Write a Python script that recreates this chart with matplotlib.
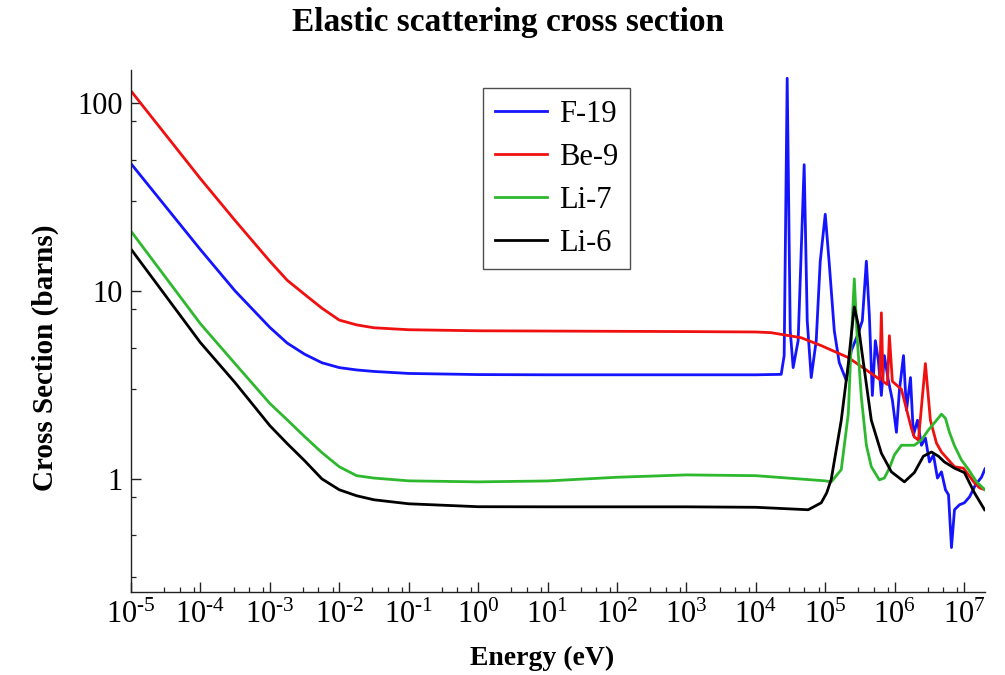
import math
import matplotlib
matplotlib.use("Agg")
import matplotlib.pyplot as plt
from matplotlib.ticker import FixedLocator, LogLocator, NullFormatter, FuncFormatter

plt.rcParams['font.family'] = ['Liberation Serif', 'DejaVu Serif']
plt.rcParams['mathtext.fontset'] = 'custom'
plt.rcParams['mathtext.rm'] = 'Liberation Serif'
plt.rcParams['mathtext.it'] = 'Liberation Serif:italic'
plt.rcParams['mathtext.bf'] = 'Liberation Serif:bold'

# ---- elastic cross sections (energy in eV, cross section in barns) ----
low_energy = [1e-5, 1e-4, 3.16e-4, 1e-3, 1.78e-3, 3.16e-3, 5.62e-3, 1e-2,
              1.78e-2, 3.16e-2, 1e-1, 1, 10, 100, 1e3, 1e4]

f19_low = [47.6, 16.6, 10.0, 6.4, 5.28, 4.61, 4.15, 3.91,
           3.80, 3.73, 3.64, 3.59, 3.58, 3.58, 3.58, 3.58]
be9_low = [116, 39.6, 23.7, 14.4, 11.4, 9.6, 8.1, 7.0,
           6.6, 6.37, 6.22, 6.14, 6.12, 6.10, 6.08, 6.05]
li7_low = [20.8, 6.69, 4.1, 2.52, 2.06, 1.68, 1.38, 1.16,
           1.04, 1.01, 0.976, 0.964, 0.975, 1.02, 1.05, 1.04]
li6_low = [16.7, 5.31, 3.25, 1.92, 1.54, 1.25, 1.0, 0.875,
           0.813, 0.774, 0.737, 0.711, 0.710, 0.710, 0.710, 0.706]

f19_high_e = [2.32e4, 2.56e4, 2.83e4, 3.13e4, 3.45e4, 4.07e4, 4.97e4, 5.5e4,
              6.28e4, 7.41e4, 8.47e4, 1.0e5, 1.14e5, 1.35e5, 1.59e5, 2.01e5,
              2.37e5, 2.9e5, 3.42e5, 3.91e5, 4.32e5, 4.77e5, 5.27e5, 5.82e5,
              6.43e5, 7.1e5, 8.11e5, 9.27e5, 1.06e6, 1.17e6, 1.34e6, 1.48e6,
              1.69e6, 1.86e6, 2.13e6, 2.43e6, 2.77e6, 3.17e6, 3.62e6, 4.13e6,
              4.72e6, 5.39e6, 5.96e6, 6.58e6, 7.27e6, 8.58e6, 1.01e7, 1.2e7,
              1.46e7, 1.78e7, 2.0e7]
f19_high = [3.6, 4.53, 135.6, 6.14, 3.91, 5.44, 47.0, 6.94,
            3.46, 5.44, 14.4, 25.6, 14.1, 6.14, 4.16, 3.34,
            4.81, 5.78, 6.94, 14.4, 7.37, 2.78, 5.44, 4.26,
            2.78, 4.53, 3.34, 2.62, 1.77, 2.96, 4.53, 2.32,
            3.46, 1.71, 2.05, 1.51, 1.65, 1.23, 1.34, 1.01,
            1.09, 0.875, 0.823, 0.431, 0.685, 0.728, 0.746, 0.803,
            0.93, 1.02, 1.13]

be9_high_e = [1.66e4, 4.5e4, 8.75e4, 2.15e5, 4.61e5, 5.82e5, 6.1e5, 6.43e5,
              6.8e5, 7.85e5, 8.39e5, 9.27e5, 1.25e6, 1.74e6, 1.92e6, 2.2e6,
              2.77e6, 3.27e6, 4.0e6, 4.72e6, 7.27e6, 9.8e6, 1.41e7, 1.67e7,
              2.0e7]
be9_high = [6.0, 5.64, 5.12, 4.42, 3.64, 3.42, 3.38, 7.65,
            3.3, 3.18, 5.78, 3.3, 3.0, 1.86, 1.67, 1.61,
            4.11, 2.05, 1.55, 1.39, 1.16, 1.14, 0.953, 0.896,
            0.875]

li7_high_e = [1e5, 1.22e5, 1.7e5, 2.15e5, 2.37e5, 2.62e5, 2.9e5, 3.31e5,
              3.91e5, 4.61e5, 6.01e5, 7.1e5, 8.39e5, 9.9e5, 1.25e6, 1.92e6,
              2.43e6, 3.06e6, 4.0e6, 4.72e6, 5.39e6, 6.15e6, 7.27e6, 9.17e6,
              1.16e7, 1.51e7, 2.0e7]
li7_high = [0.976, 0.964, 1.12, 2.23, 5.44, 11.6, 5.44, 2.72,
            1.51, 1.16, 0.988, 1.01, 1.14, 1.34, 1.51, 1.51,
            1.61, 1.82, 2.05, 2.21, 2.1, 1.77, 1.5, 1.26,
            1.12, 0.964, 0.875]

li6_high_e = [5.69e4, 8.75e4, 1.05e5, 1.22e5, 1.7e5, 2.15e5, 2.4e5, 2.62e5,
              2.99e5, 3.31e5, 4.61e5, 6.43e5, 8.96e5, 1.38e6, 1.92e6, 2.59e6,
              3.39e6, 4.27e6, 5.21e6, 7.27e6, 1.01e7, 1.41e7, 1.97e7]
li6_high = [0.685, 0.746, 0.843, 0.995, 2.05, 4.11, 6.1, 8.23,
            6.6, 4.99, 2.05, 1.37, 1.09, 0.964, 1.08, 1.32,
            1.39, 1.32, 1.23, 1.14, 1.08, 0.843, 0.685]

series = [
    ("F-19", low_energy + f19_high_e, f19_low + f19_high, "#1414ff"),
    ("Be-9", low_energy + be9_high_e, be9_low + be9_high, "#f01010"),
    ("Li-7", low_energy + li7_high_e, li7_low + li7_high, "#2eb82e"),
    ("Li-6", low_energy + li6_high_e, li6_low + li6_high, "#000000"),
]

x_major = [10.0 ** k for k in range(-5, 8)]
y_major = [1, 10, 100]
y_labels = ["1", "10", "100"]

fig = plt.figure(figsize=(10.05, 6.75), dpi=100)
ax = fig.add_axes([131 / 1005, 83 / 675, 854 / 1005, 522 / 675])

for name, e, xs, col in series:
    ax.plot(e, xs, color=col, lw=2.0, label=name, solid_joinstyle='round')

ax.set_xscale('log')
ax.set_yscale('log')
ax.set_xlim(1e-5, 2e7)
ax.set_ylim(0.25, 150)

for side in ('top', 'right'):
    ax.spines[side].set_visible(False)
for side in ('left', 'bottom'):
    ax.spines[side].set_linewidth(1.0)
    ax.spines[side].set_color('#222222')


def decade_label(v, pos):
    k = int(round(math.log10(v)))
    sign = '\u2010' if k < 0 else ''
    return r'$\mathregular{10^{%s%d}}$' % (sign, abs(k))


def y_label(v, pos):
    iv = int(round(v))
    return y_labels[y_major.index(iv)] if iv in y_major else ""


ax.xaxis.set_major_locator(FixedLocator(x_major))
ax.xaxis.set_major_formatter(FuncFormatter(decade_label))
ax.xaxis.set_minor_locator(LogLocator(base=10, subs=(3, 5, 8), numticks=40))
ax.xaxis.set_minor_formatter(NullFormatter())

ax.yaxis.set_major_locator(FixedLocator(y_major))
ax.yaxis.set_major_formatter(FuncFormatter(y_label))
ax.yaxis.set_minor_locator(LogLocator(base=10, subs=(3, 5, 8), numticks=20))
ax.yaxis.set_minor_formatter(NullFormatter())

ax.tick_params(which='major', direction='in', length=7, width=1.0, color='#222222',
               labelsize=22, pad=6)
ax.tick_params(which='minor', direction='in', length=3.5, width=0.9, color='#222222')

fig.text(0.505, 0.967, "Elastic scattering cross section", ha='center', va='center',
         fontsize=24, fontweight='bold')
fig.text(0.539, 0.025, "Energy (eV)", ha='center', va='center',
         fontsize=20, fontweight='bold')
fig.text(0.045, 0.47, "Cross Section (barns)", ha='center', va='center',
         rotation=90, fontsize=21, fontweight='bold')

leg = ax.legend(loc='upper left', bbox_to_anchor=(483 / 1005, 1 - 88 / 675),
                bbox_transform=fig.transFigure, fontsize=22, frameon=True,
                fancybox=False, edgecolor='#222222', handlelength=1.7,
                handletextpad=0.4, labelspacing=0.46, borderpad=0.38,
                borderaxespad=0)
leg.get_frame().set_linewidth(1.0)

fig.savefig("out.png", dpi=100, facecolor='white')
